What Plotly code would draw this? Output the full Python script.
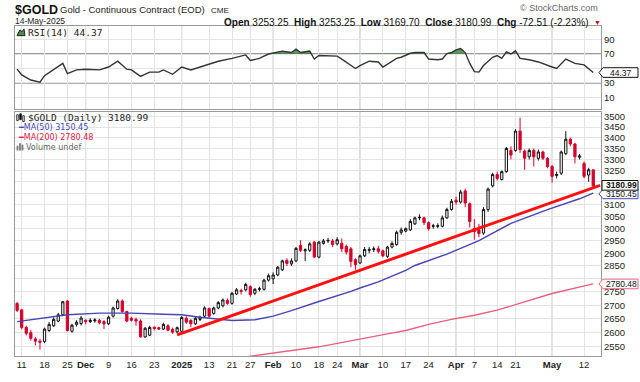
import math
import pandas as pd
import plotly.graph_objects as go

# ---------------- data ----------------
holidays = ["2024-11-28", "2024-12-25", "2025-01-01", "2025-01-09",
            "2025-01-20", "2025-02-17", "2025-04-18"]
dates = [d.strftime("%Y-%m-%d") for d in pd.bdate_range("2024-11-08", "2025-05-14")
         if d.strftime("%Y-%m-%d") not in holidays]

opens = [2707, 2683, 2619, 2600, 2578, 2570, 2568, 2608, 2625, 2642, 2665, 2716, 2605, 2630, 2633,
         2645, 2640, 2643, 2645, 2640, 2632, 2660, 2688, 2716, 2677, 2652, 2648, 2642, 2585, 2591, 2620, 2618, 2613, 2625, 2612, 2603,
         2605, 2652, 2645, 2632, 2648, 2660, 2688, 2670, 2690, 2698, 2718, 2707, 2742, 2755, 2758, 2770, 2745, 2760, 2760, 2795,
         2800, 2815, 2835, 2872, 2858, 2870, 2932, 2910, 2912, 2945, 2885, 2940, 2950, 2950, 2938, 2940, 2928, 2918, 2875,
         2862, 2890, 2912, 2915, 2918, 2910, 2888, 2925, 2935, 2985, 2990, 2995, 3020, 3045, 3045, 3025, 3010, 3010, 3010, 3045, 3080,
         3120, 3112, 3160, 3105, 3000, 2995, 2982, 3080, 3182, 3232, 3210, 3245, 3341, 3341, 3431, 3338, 3312, 3341, 3305, 3334, 3305,
         3268, 3228, 3238, 3326, 3393, 3371, 3310, 3282, 3230, 3253.25]
highs = [2712, 2686, 2625, 2610, 2585, 2578, 2618, 2638, 2655, 2672, 2716, 2720, 2632, 2645, 2660,
         2648, 2652, 2652, 2650, 2645, 2662, 2695, 2722, 2722, 2680, 2658, 2655, 2648, 2620, 2625, 2622, 2621, 2636, 2630, 2618, 2622,
         2660, 2660, 2648, 2660, 2662, 2696, 2692, 2695, 2715, 2725, 2725, 2750, 2765, 2762, 2785, 2775, 2765, 2770, 2800, 2820,
         2825, 2850, 2875, 2880, 2880, 2925, 2953, 2920, 2945, 2950, 2950, 2958, 2962, 2958, 2965, 2960, 2935, 2925, 2880,
         2895, 2925, 2925, 2928, 2930, 2915, 2930, 2948, 2992, 3005, 3005, 3040, 3050, 3060, 3050, 3030, 3020, 3022, 3055, 3088, 3125,
         3135, 3165, 3170, 3110, 3040, 3020, 3090, 3175, 3240, 3245, 3250, 3357, 3360, 3440, 3495, 3345, 3350, 3350, 3345, 3340, 3310,
         3275, 3245, 3340, 3431, 3400, 3375, 3325, 3290, 3262, 3253.25]
lows = [2675, 2612, 2590, 2572, 2555, 2540, 2563, 2603, 2620, 2638, 2660, 2604, 2600, 2622, 2626,
        2630, 2635, 2636, 2630, 2613, 2628, 2655, 2684, 2672, 2638, 2640, 2625, 2582, 2582, 2588, 2608, 2610, 2610, 2605, 2596, 2598,
        2600, 2632, 2620, 2628, 2642, 2655, 2655, 2665, 2685, 2692, 2702, 2702, 2738, 2740, 2752, 2732, 2738, 2752, 2755, 2790,
        2780, 2810, 2830, 2850, 2850, 2865, 2905, 2870, 2905, 2880, 2880, 2935, 2942, 2925, 2932, 2905, 2895, 2845, 2835,
        2858, 2885, 2900, 2905, 2900, 2885, 2882, 2920, 2930, 2975, 2985, 2990, 3015, 3035, 3015, 2992, 3000, 3002, 3005, 3040, 3075,
        3100, 3105, 3090, 3005, 2955, 2965, 2975, 3070, 3175, 3205, 3205, 3240, 3300, 3335, 3330, 3253, 3300, 3268, 3295, 3297, 3260,
        3196, 3215, 3230, 3320, 3360, 3282, 3300, 3215, 3200, 3169.70]
closes = [2681, 2619, 2598, 2580, 2570, 2566, 2613, 2630, 2648, 2665, 2713, 2608, 2627, 2638, 2653,
          2640, 2645, 2646, 2636, 2632, 2656, 2690, 2716, 2677, 2642, 2645, 2642, 2585, 2616, 2619, 2615, 2613, 2630, 2609, 2602, 2618,
          2655, 2638, 2632, 2652, 2656, 2690, 2660, 2690, 2710, 2720, 2707, 2745, 2758, 2752, 2778, 2740, 2760, 2762, 2795, 2812,
          2815, 2845, 2870, 2860, 2870, 2920, 2912, 2914, 2938, 2885, 2945, 2950, 2952, 2935, 2955, 2918, 2905, 2868, 2855,
          2890, 2915, 2915, 2918, 2908, 2890, 2925, 2940, 2985, 2995, 3000, 3030, 3045, 3047, 3025, 3000, 3012, 3012, 3045, 3080, 3115,
          3112, 3155, 3108, 3030, 2988, 2980, 3080, 3168, 3232, 3215, 3245, 3350, 3320, 3431, 3345, 3305, 3341, 3312, 3334, 3305, 3268,
          3224, 3232, 3334, 3393, 3371, 3312, 3316, 3224, 3253.25, 3180.99]

ma50_dates = ["2024-11-08", "2024-11-25", "2024-12-05", "2024-12-16", "2024-12-26", "2025-01-02",
              "2025-01-08", "2025-01-15", "2025-01-21", "2025-01-28", "2025-02-03", "2025-02-07",
              "2025-02-11", "2025-02-18", "2025-02-27", "2025-03-03", "2025-03-07", "2025-03-17",
              "2025-03-19", "2025-03-28", "2025-04-08", "2025-04-17", "2025-04-30", "2025-05-09", "2025-05-14"]
ma50_vals = [2640, 2665, 2671, 2671, 2667, 2665, 2656, 2648, 2644, 2647, 2660, 2680,
             2692, 2714, 2752, 2765, 2788, 2833, 2852, 2897, 2951, 3022, 3080, 3126, 3150.45]

ma200_dates = ["2025-01-08", "2025-01-24", "2025-02-18", "2025-03-03", "2025-03-11", "2025-03-17",
               "2025-03-24", "2025-03-31", "2025-04-07", "2025-04-14", "2025-04-22", "2025-05-01",
               "2025-05-13", "2025-05-14"]
ma200_vals = [2497, 2515, 2550, 2579, 2596, 2608, 2630, 2648, 2663, 2682, 2707, 2744, 2777, 2780.48]

trend_dates = ["2024-12-31", "2025-05-14"]
trend_vals = [2592, 3184]

rsi_dates_idx = [0, 1, 3, 5, 6, 8, 10, 11, 13, 15, 18, 20, 22, 24, 25, 27, 29, 31, 32, 34, 36, 38, 40,
                 42, 44, 47, 48, 50, 51, 53, 54, 55, 58, 60, 61, 62, 64, 65, 66, 68, 70, 71, 72, 74,
                 75, 77, 79, 80, 83, 84, 86, 87, 89, 90, 92, 93, 94, 95, 96, 97, 98, 99, 100, 101, 102,
                 104, 105, 106, 107, 108, 109, 110, 112, 113, 114, 117, 118, 120, 122, 124, 125, 126]
rsi_vals = [49, 41, 34, 31, 40, 48, 57, 43, 48, 49, 48, 52, 60, 49, 48, 39, 45, 45, 48, 42, 52, 48, 52,
            57, 60, 64, 65.5, 68.7, 61, 64, 67, 70, 74, 72, 76.7, 72, 74, 63, 68, 68, 67, 63, 59, 50,
            54, 60, 59, 52, 64, 65.5, 71, 72, 72, 63, 62, 63, 70.5, 72, 75.7, 77.6, 72, 57, 45.6, 45, 54,
            65.5, 67.8, 64, 73, 70, 74.6, 64, 62, 61, 59, 52, 50, 63, 57, 55, 49, 44.37]

tick_dates = ["2024-11-11", "2024-11-18", "2024-11-25", "2024-12-02", "2024-12-09", "2024-12-16",
              "2024-12-23", "2025-01-02", "2025-01-13", "2025-01-21", "2025-01-27", "2025-02-03",
              "2025-02-10", "2025-02-18", "2025-02-24", "2025-03-03", "2025-03-10", "2025-03-17",
              "2025-03-24", "2025-04-01", "2025-04-07", "2025-04-14", "2025-04-21", "2025-05-01",
              "2025-05-12"]
tick_text = ["11", "18", "25", "<b>Dec</b>", "9", "16", "23", "<b>2025</b>", "13", "21", "27",
             "<b>Feb</b>", "10", "18", "24", "<b>Mar</b>", "10", "17", "24", "<b>Apr</b>", "7", "14",
             "21", "<b>May</b>", "12"]
month_dates = ["2024-12-02", "2025-01-02", "2025-02-03", "2025-03-03", "2025-04-01", "2025-05-01"]

price_ticks = list(range(2550, 3501, 50))
price_hidden = [2800, 3150, 3200]          # covered by the value flags in the reference
rsi_ticks = [10, 30, 50, 70, 90]
rsi_hidden = [50]

# ---------------- helpers ----------------
pos = {d: i for i, d in enumerate(dates)}
idx = list(range(len(dates)))
L, R, T, B = 15, 601, 26, 368
MAIN_TOP, RSI_BOT = 115, 112


def px(x):
    return (x - L) / (R - L)


def py(y):
    return (B - y) / (B - T)


MAIN_DOM = [0, py(MAIN_TOP)]
RSI_DOM = [py(RSI_BOT), 1]
XR = [-0.46, 127.7]
YR = [math.log10(2518), math.log10(3523)]
RR = [-6, 108.7]


def ypix_main(v):
    return MAIN_TOP + (YR[1] - math.log10(v)) / (YR[1] - YR[0]) * (B - MAIN_TOP)


def ypix_rsi(v):
    return T + (RR[1] - v) / (RR[1] - RR[0]) * (RSI_BOT - T)


GRID = "#e4e4e4"
FRAME = "#9a9a9a"
RED = "#d4002a"
BLUE = "#4646b4"
PINK = "#e8607e"

fig = go.Figure()

fig.add_trace(go.Candlestick(
    x=idx, open=opens, high=highs, low=lows, close=closes,
    increasing=dict(line=dict(color="#111111", width=1), fillcolor="white"),
    decreasing=dict(line=dict(color=RED, width=1), fillcolor=RED),
    whiskerwidth=0, xaxis="x", yaxis="y", hoverinfo="skip"))

fig.add_trace(go.Scatter(x=[pos[d] for d in ma200_dates], y=ma200_vals, mode="lines",
                         line=dict(color=PINK, width=1.4), xaxis="x", yaxis="y"))
fig.add_trace(go.Scatter(x=[pos[d] for d in ma50_dates], y=ma50_vals, mode="lines",
                         line=dict(color=BLUE, width=1.4), xaxis="x", yaxis="y"))
trend_x = [pos[trend_dates[0]], pos[trend_dates[1]] + 1.5]
fig.add_trace(go.Scatter(x=trend_x, y=trend_vals, mode="lines",
                         line=dict(color="#ff1010", width=3), xaxis="x", yaxis="y"))

# RSI fill above 70
fx, fy = [], []
for k in range(len(rsi_dates_idx) - 1):
    x0, y0 = rsi_dates_idx[k], rsi_vals[k]
    x1, y1 = rsi_dates_idx[k + 1], rsi_vals[k + 1]
    fx.append(x0)
    fy.append(y0)
    if (y0 - 70) * (y1 - 70) < 0:
        t = (70 - y0) / (y1 - y0)
        fx.append(x0 + t * (x1 - x0))
        fy.append(70)
fx.append(rsi_dates_idx[-1])
fy.append(rsi_vals[-1])
fig.add_trace(go.Scatter(x=fx, y=[70] * len(fx), mode="lines", line=dict(width=0),
                         xaxis="x2", yaxis="y2", hoverinfo="skip"))
fig.add_trace(go.Scatter(x=fx, y=[max(v, 70) for v in fy], mode="lines", line=dict(width=0),
                         fill="tonexty", fillcolor="rgba(70,130,70,0.85)",
                         xaxis="x2", yaxis="y2", hoverinfo="skip"))
fig.add_trace(go.Scatter(x=rsi_dates_idx, y=rsi_vals, mode="lines",
                         line=dict(color="#333333", width=1.4), xaxis="x2", yaxis="y2"))

tickpos = [pos[d] for d in tick_dates]
axis_common = dict(showline=True, mirror=True, linecolor=FRAME, linewidth=1,
                   gridcolor=GRID, gridwidth=1, zeroline=False, ticks="")

fig.update_layout(
    width=640, height=382,
    margin=dict(l=L, r=640 - R, t=T, b=382 - B),
    paper_bgcolor="white", plot_bgcolor="white", showlegend=False,
    font=dict(family="Liberation Sans, Arial, sans-serif", size=9, color="#222222"),
    xaxis=dict(domain=[0, 1], range=XR, anchor="y", tickvals=tickpos, ticktext=tick_text,
               tickfont=dict(size=9.5, color="#222"), rangeslider=dict(visible=False), **axis_common),
    xaxis2=dict(domain=[0, 1], range=XR, anchor="y2", matches="x", tickvals=tickpos,
                showticklabels=False, **axis_common),
    yaxis=dict(domain=MAIN_DOM, type="log", range=YR, side="right", anchor="x",
               tickvals=price_ticks,
               ticktext=["" if v in price_hidden else str(v) for v in price_ticks],
               tickfont=dict(size=9.5, color="#222"), **axis_common),
    yaxis2=dict(domain=RSI_DOM, range=RR, side="right", anchor="x2", tickvals=rsi_ticks,
                ticktext=["" if v in rsi_hidden else str(v) for v in rsi_ticks],
                tickfont=dict(size=9.5, color="#222"), **axis_common),
)

shapes = []
for d in month_dates:
    for dom in (MAIN_DOM, RSI_DOM):
        shapes.append(dict(type="line", xref="x", yref="paper", x0=pos[d], x1=pos[d],
                           y0=dom[0], y1=dom[1], line=dict(color="#bdbdbd", width=1), layer="below"))
for lvl in (70, 30):
    shapes.append(dict(type="line", xref="paper", yref="y2", x0=0, x1=1, y0=lvl, y1=lvl,
                       line=dict(color="#999999", width=1.8), layer="below"))
shapes.append(dict(type="line", xref="paper", yref="y2", x0=0, x1=1, y0=50, y1=50,
                   line=dict(color="#9a9a9a", width=1, dash="dashdot"), layer="below"))


def ppath(points):
    return "M " + " L ".join(f"{px(a):.5f},{py(b):.5f}" for a, b in points) + " Z"


# value flags on the right axis (pentagon pointers)
flags = [(ypix_main(2780.48), 0, PINK, True, "2780.48", False),
         (ypix_main(3150.45), 0.8, BLUE, True, "3150.45", False),
         (ypix_main(3180.99), -0.8, "#111", False, "3180.99", True),
         (ypix_rsi(44.37), 0, "#111", True, "44.37", False)]
ann = []
for yc, dy, col, pointer, label, bold in flags:
    yc = yc + dy
    h = 5.0
    x0 = 599 if pointer else 602
    pts = ([(x0, yc), (x0 + 4, yc - h), (638, yc - h), (638, yc + h), (x0 + 4, yc + h)] if pointer
           else [(x0, yc - h), (638, yc - h), (638, yc + h), (x0, yc + h)])
    shapes.append(dict(type="path", xref="paper", yref="paper", path=ppath(pts),
                       line=dict(color=col, width=1), fillcolor="white", layer="above"))
    ann.append(dict(x=px(621), y=py(yc), xref="paper", yref="paper",
                    text=f"<b>{label}</b>" if bold else label, showarrow=False,
                    xanchor="center", yanchor="middle",
                    font=dict(size=8.5, color="#111", family="Liberation Sans, Arial")))

# small legend icons
shapes.append(dict(type="path", xref="paper", yref="paper",
                   path=ppath([(17, 36), (20, 30), (22, 32), (24, 29), (25, 36)]),
                   line=dict(color="#222", width=1), fillcolor="#4e8a4e", layer="above"))
for x0, y0, y1, col, fill in ((17.5, 118, 124, "#111", "white"), (20.5, 117, 123, "#111", "#111"),
                              (23.5, 119, 125, "#111", "white")):
    shapes.append(dict(type="rect", xref="paper", yref="paper", x0=px(x0 - 0.8), x1=px(x0 + 0.8),
                       y0=py(y1), y1=py(y0), line=dict(color=col, width=0.8), fillcolor=fill,
                       layer="above"))
for x0, y0 in ((17.5, 150), (20, 147.5), (22.5, 149)):
    shapes.append(dict(type="rect", xref="paper", yref="paper", x0=px(x0 - 0.9), x1=px(x0 + 0.9),
                       y0=py(155), y1=py(y0), line=dict(width=0), fillcolor="#777",
                       layer="above"))
fig.update_layout(shapes=shapes)


def text(x, y, s, size=9, color="#222", family="Liberation Sans, Arial", anchor="left", **kw):
    ann.append(dict(x=px(x), y=py(y), xref="paper", yref="paper", text=s, showarrow=False,
                    xanchor=anchor, yanchor="middle", font=dict(size=size, color=color, family=family), **kw))


text(13, 9, "<b>$GOLD</b>", size=12.5, color="#111")
text(58, 9, "Gold - Continuous Contract (EOD)", size=9.5, color="#222")
text(209, 9.5, "CME", size=8, color="#222")
text(13, 21, "14-May-2025", size=8.5, color="#222")
text(600, 7, "© StockCharts.com", size=9, color="#666", anchor="right")
text(591, 22, "<b>Open</b> 3253.25  <b>High</b> 3253.25  <b>Low</b> 3169.70  "
              "<b>Close</b> 3180.99  <b>Chg</b> -72.51 (-2.23%)", size=10, color="#111", anchor="right")
text(592, 22, "▼", size=7, color=RED)
text(26, 33, "RSI(14) 44.37", size=9.5, color="#222", family="DejaVu Sans Mono")
text(26, 121, "$GOLD (Daily) 3180.99", size=9.5, color="#222", family="DejaVu Sans Mono")
text(16, 131.5, "━MA(50) 3150.45", size=8, color=BLUE, family="DejaVu Sans")
text(16, 141.5, "━MA(200) 2780.48", size=8, color="#e0204a", family="DejaVu Sans")
text(24, 151.5, "Volume undef", size=8, color="#666", family="DejaVu Sans")

fig.update_layout(annotations=ann)
fig.write_html("out.html", config={"displayModeBar": False, "staticPlot": True},
               post_script="document.body.style.margin='0';document.body.style.overflow='hidden';")
